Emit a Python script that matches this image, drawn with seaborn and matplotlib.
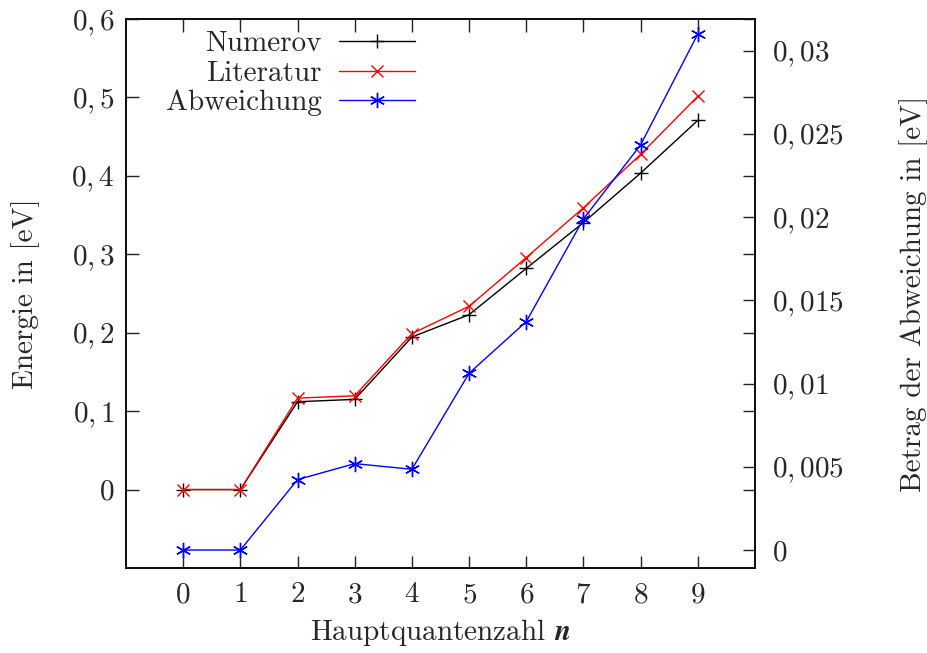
import matplotlib
matplotlib.use("Agg")
import matplotlib.pyplot as plt
import seaborn as sns
import pandas as pd
from matplotlib.ticker import FixedLocator, FixedFormatter

# ---------------- data ----------------
n_values = [0, 1, 2, 3, 4, 5, 6, 7, 8, 9]
numerov = [0.0, 0.0, 0.112, 0.115, 0.1945, 0.223, 0.282, 0.3405, 0.4035, 0.4708]
literatur = [0.0, 0.0, 0.1166, 0.1196, 0.1988, 0.2337, 0.2959, 0.3593, 0.4274, 0.5015]
abweichung = [0.0, 0.0, 0.00423, 0.00519, 0.00485, 0.01062, 0.01372, 0.01989, 0.02434, 0.0310]

x_ticks = [0, 1, 2, 3, 4, 5, 6, 7, 8, 9]
left_ticks = [0.0, 0.1, 0.2, 0.3, 0.4, 0.5, 0.6]
left_labels = ["0", "0,1", "0,2", "0,3", "0,4", "0,5", "0,6"]
right_ticks = [0.0, 0.005, 0.01, 0.015, 0.02, 0.025, 0.03]
right_labels = ["0", "0,005", "0,01", "0,015", "0,02", "0,025", "0,03"]

series_names = ["Numerov", "Literatur", "Abweichung"]
xlabel = r"Hauptquantenzahl $\mathbfit{n}$"
ylabel_left = "Energie in [eV]"
ylabel_right = "Betrag der Abweichung in [eV]"

# ---------------- style ----------------
sns.set_style("ticks")
plt.rcParams["font.family"] = ["cmr10", "DejaVu Serif"]
plt.rcParams["mathtext.fontset"] = "cm"
plt.rcParams["axes.unicode_minus"] = False
plt.rcParams["axes.formatter.use_mathtext"] = True
FS = 21

df_e = pd.DataFrame({"n": n_values, "Numerov": numerov, "Literatur": literatur})
df_a = pd.DataFrame({"n": n_values, "Abweichung": abweichung})

fig = plt.figure(figsize=(9.28, 6.53), dpi=100)
ax = fig.add_axes([126 / 928, 1 - 568 / 653, (755 - 126) / 928, (568 - 19) / 653])
ax2 = ax.twinx()

sns.lineplot(data=df_e, x="n", y="Numerov", ax=ax, color="black", marker="+",
             markersize=10, mew=1.0, mec="black", linewidth=1.0, label=series_names[0])
sns.lineplot(data=df_e, x="n", y="Literatur", ax=ax, color="#ff0000", marker="x",
             markersize=9, mew=1.0, mec="#ff0000", linewidth=1.0, label=series_names[1])
sns.lineplot(data=df_a, x="n", y="Abweichung", ax=ax2, color="#0000ff", marker=(6, 2, 0),
             markersize=11, mew=1.0, mec="#0000ff", linewidth=1.0, label=series_names[2])

for a in (ax, ax2):
    lg = a.get_legend()
    if lg is not None:
        lg.remove()

ax.set_xlim(-1, 10)
ax.set_ylim(-0.1, 0.6)
ax2.set_ylim(-0.00108, 0.0319)

ax.xaxis.set_major_locator(FixedLocator(x_ticks))
ax.set_xticklabels([f"${v}$" for v in x_ticks])
ax.yaxis.set_major_locator(FixedLocator(left_ticks))
ax.yaxis.set_major_formatter(FixedFormatter([f"${s}$" for s in left_labels]))
ax2.yaxis.set_major_locator(FixedLocator(right_ticks))
ax2.yaxis.set_major_formatter(FixedFormatter([f"${s}$" for s in right_labels]))

ax.tick_params(axis="both", direction="in", length=9, width=1.0, labelsize=FS,
               top=True, right=True, left=True, bottom=True, color="#222222")
ax.tick_params(axis="y", labelright=False)
ax2.tick_params(axis="y", direction="in", length=9, width=1.0, labelsize=FS,
                color="#222222", pad=12)
ax.tick_params(axis="x", pad=10)
ax.tick_params(axis="y", pad=8)

for a in (ax, ax2):
    for s in a.spines.values():
        s.set_visible(True)
        s.set_linewidth(1.4)
        s.set_color("#111111")
ax.minorticks_off()
ax2.minorticks_off()

ax.set_xlabel(xlabel, fontsize=FS, labelpad=6)
ax.set_ylabel(ylabel_left, fontsize=FS, labelpad=23)
ax2.set_ylabel(ylabel_right, fontsize=FS, labelpad=40)

h1, l1 = ax.get_legend_handles_labels()
h2, l2 = ax2.get_legend_handles_labels()
ax2.legend(h1 + h2, l1 + l2, loc="upper right", bbox_to_anchor=(0.459, 0.978),
           frameon=False, markerfirst=False, fontsize=FS, handlelength=2.6,
           handletextpad=0.6, labelspacing=0.1, borderpad=0.0, borderaxespad=0.0)

fig.savefig("out.png", dpi=100)
